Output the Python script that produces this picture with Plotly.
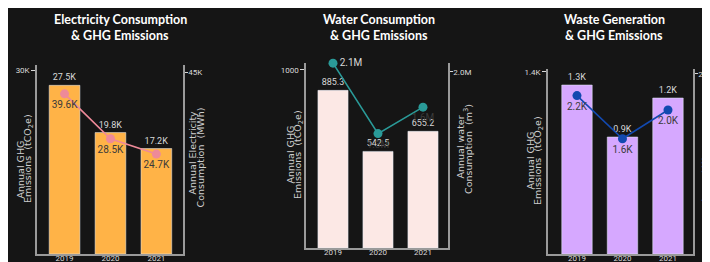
import plotly.graph_objects as go

years = ["2019", "2020", "2021"]

elec_ghg = [27500, 19800, 17200]          # tCO2e
elec_mwh = [39600, 28500, 24700]          # MWh
water_ghg = [885.3, 542.5, 655.2]         # tCO2e
water_m3 = [2.1e6, 1.3e6, 1.6e6]          # m3
waste_ghg = [1300, 900, 1200]             # tCO2e
waste_t = [2200, 1600, 2000]              # tonne

p1_left_tick, p1_left_lbl = [30000], ["30K"]
p1_right_tick, p1_right_lbl = [45000], ["45K"]
p2_left_tick, p2_left_lbl = [1000], ["1000"]
p2_right_tick, p2_right_lbl = [2.0e6], ["2.0M"]
p3_left_tick, p3_left_lbl = [1400], ["1.4K"]
p3_right_tick, p3_right_lbl = [2500], ["2.5K"]

def k(v):
    return f"{v/1000:.1f}K"

def m(v):
    return f"{v/1e6:.1f}M"

W, H = 710, 262
BG = "#151515"
AX = "#9a9a9a"
LIGHT = "#d8d8d8"
DARK = "#3a3a3a"
FONT = "Lato"
TFONT = "Roboto"
AFONT = "DejaVu Sans"
NB = "\u00a0"

fig = go.Figure()

panels = [
    dict(bars=elec_ghg, line=elec_mwh, blbl=[k(v) for v in elec_ghg], llbl=[k(v) for v in elec_mwh],
         bcol="#FFB347", lcol="#EE8A99", lpos=["bottom center"] * 3, lfont=[DARK] * 3,
         x0=29, x1=175, yb=246, yt=57, lr=30815, rr=46731,
         lt=(p1_left_tick, p1_left_lbl), rt=(p1_right_tick, p1_right_lbl), xr=[-0.6, 2.58]),
    dict(bars=water_ghg, line=water_m3, blbl=[f"{v:.1f}" for v in water_ghg], llbl=[m(v) for v in water_m3],
         bcol="#FCE8E5", lcol="#2A9A98", lpos=["middle right", "bottom center", "bottom center"],
         lfont=[LIGHT, DARK, DARK],
         x0=298, x1=440, yb=240, yt=55, lr=1039, rr=2.102e6,
         lt=(p2_left_tick, p2_left_lbl), rt=(p2_right_tick, p2_right_lbl), xr=[-0.6, 2.556]),
    dict(bars=waste_ghg, line=waste_t, blbl=[k(v) for v in waste_ghg], llbl=[k(v) for v in waste_t],
         bcol="#D6A8FF", lcol="#1249B0", lpos=["bottom center"] * 3, lfont=[DARK] * 3,
         x0=540, x1=685, yb=246, yt=61, lr=1423, rr=2569,
         lt=(p3_left_tick, p3_left_lbl), rt=(p3_right_tick, p3_right_lbl), xr=[-0.637, 2.55]),
]

layout = {}
for i, p in enumerate(panels):
    xa = f"x{'' if i == 0 else i + 1}"
    yl = f"y{2 * i + 1 if i else ''}"
    yr = f"y{2 * i + 2}"
    fig.add_trace(go.Bar(
        x=years, y=p["bars"], xaxis=xa, yaxis=yl, marker_color=p["bcol"], width=0.67,
        text=p["blbl"], textposition="outside", cliponaxis=False,
        outsidetextfont=dict(family=TFONT, size=9, color=LIGHT), showlegend=False))
    fig.add_trace(go.Scatter(
        x=years, y=p["line"], xaxis=xa, yaxis=yr, mode="lines+markers+text",
        line=dict(color=p["lcol"], width=1.6), marker=dict(size=9, color=p["lcol"]),
        text=p["llbl"], textposition=p["lpos"], cliponaxis=False,
        textfont=dict(family=TFONT, size=10, color=p["lfont"]), showlegend=False))
    xd = [p["x0"] / W, p["x1"] / W]
    yd = [1 - p["yb"] / H, 1 - p["yt"] / H]
    xkey = "xaxis" if i == 0 else f"xaxis{i + 1}"
    ylkey = "yaxis" if i == 0 else f"yaxis{2 * i + 1}"
    yrkey = f"yaxis{2 * i + 2}"
    layout[xkey] = dict(domain=xd, anchor=yl, range=p["xr"], type="category",
                        showline=True, linecolor=AX, linewidth=1.5, showgrid=False,
                        ticks="", ticklen=0, ticklabelstandoff=-4,
                        tickfont=dict(family=TFONT, size=8, color=LIGHT), fixedrange=True)
    layout[ylkey] = dict(domain=yd, anchor=xa, range=[0, p["lr"]], showline=True, linecolor=AX,
                         linewidth=1.5, showgrid=False, zeroline=False,
                         tickvals=p["lt"][0], ticktext=p["lt"][1], ticks="outside", ticklen=4,
                         tickcolor=LIGHT, tickwidth=1.2,
                         tickfont=dict(family=TFONT, size=8, color=LIGHT))
    layout[yrkey] = dict(domain=yd, anchor=xa, overlaying=yl, side="right", range=[0, p["rr"]],
                         showline=True, linecolor=AX, linewidth=1.5, showgrid=False, zeroline=False,
                         tickvals=p["rt"][0], ticktext=p["rt"][1], ticks="outside", ticklen=3,
                         tickcolor=LIGHT, tickwidth=1.2, ticklabelstandoff=-1,
                         tickfont=dict(family=TFONT, size=8, color=LIGHT))

titles = [
    ("Electricity Consumption", "& GHG Emissions", 112),
    ("Water Consumption", "& GHG Emissions", 371),
    ("Waste Generation", "& GHG Emissions", 606),
]
ann = []
for t1, t2, cx in titles:
    for txt, cy in ((t1, 12), (t2, 27)):
        ann.append(dict(text=txt, x=cx / W, y=1 - cy / H, xref="paper", yref="paper", showarrow=False,
                        font=dict(family=FONT, size=12.5, color="white", weight="bold"),
                        xanchor="center", yanchor="middle"))

ghg2 = f"Emissions{NB}{NB}(tCO<sub>2</sub>e)"
axis_titles = [
    ("Annual GHG", 11.5, 162), (ghg2, 20, 151),
    ("Annual Electricity", 183.5, 145), (f"Consumption{NB}{NB}(MWh)", 191.5, 149),
    ("Annual GHG", 281.5, 147), (ghg2, 290, 147),
    ("Annual water", 451.5, 139), (f"Consumption{NB}{NB}(m<sup>3</sup>)", 460, 141),
    ("Annual GHG", 521.5, 153), (ghg2, 530, 153),
    ("Annual Waste", 696.5, 163), (f"Generation{NB}{NB}(tonne)", 705, 160),
]
for txt, cx, cy in axis_titles:
    ann.append(dict(text=txt, x=cx / W, y=1 - cy / H, xref="paper", yref="paper", showarrow=False,
                    textangle=-90, font=dict(family=AFONT, size=9.5, color="#cfcfcf"),
                    xanchor="center", yanchor="middle"))

fig.update_layout(
    width=W, height=H, margin=dict(l=0, r=0, t=0, b=0),
    paper_bgcolor=BG, plot_bgcolor=BG, bargap=0.3, annotations=ann, **layout)

fig.write_html("out.html")
